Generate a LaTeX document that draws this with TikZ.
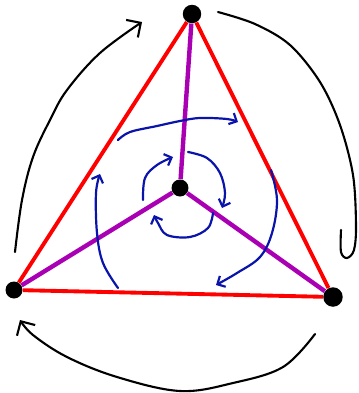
\documentclass[tikz,border=0pt]{standalone}
\usetikzlibrary{arrows.meta}

\definecolor{edgered}{RGB}{255,0,0}
\definecolor{spokepurple}{RGB}{170,0,180}
\definecolor{swirlblue}{RGB}{10,20,170}

\begin{document}
\begin{tikzpicture}[
  x=0.02cm, y=-0.02cm,
  vertex/.style  = {circle, fill=black, inner sep=0pt, minimum size=0.34cm},
  edge/.style    = {edgered, line width=2.2pt},
  spoke/.style   = {spokepurple, line width=2.5pt},
  orbit/.style   = {black, line width=1.2pt, line cap=round, line join=round},
  swirl/.style   = {swirlblue, line width=1.25pt, line cap=round, line join=round},
  orbittip/.style = {-{Straight Barb[length=6pt,width=12pt,line width=1.2pt]}},
  swirltip/.style = {-{Straight Barb[length=3.5pt,width=7pt,line width=1.25pt]}},
]

%% ── Frame (pixel grid of the sketch) ─────────────────────────────────────────
\useasboundingbox (0,0) rectangle (359,393);

%% ── Vertices ─────────────────────────────────────────────────────────────────
\node[vertex, minimum size=0.37cm] (T) at (192,14)  {};
\node[vertex]                      (L) at (14,290)  {};
\node[vertex, minimum size=0.39cm] (R) at (333,297) {};
\node[vertex]                      (C) at (180,188) {};

%% ── Triangle (red) ───────────────────────────────────────────────────────────
\draw[edge] (T) -- (L);
\draw[edge] (L) -- (R);
\draw[edge] (R) -- (T);

%% ── Spokes to centre (purple) ────────────────────────────────────────────────
\draw[spoke] (C) -- (T);
\draw[spoke] (C) -- (L);
\draw[spoke] (C) -- (R);

%% ── Outer rotation (black) ───────────────────────────────────────────────────
% left side, up to the top vertex
\draw[orbit, orbittip] plot[smooth, tension=0.6] coordinates
  {(15,252) (22,200) (33,157) (50,120) (67,90) (100,53) (142,22)};
% right side, down to the right vertex (hooked end)
\draw[orbit] plot[smooth, tension=0.55] coordinates
  {(218,12) (255,24) (290,45) (320,82) (340,125) (353,175) (356,225)
   (354,250) (347,258) (341,252) (341,230)};
% bottom, back to the left vertex
\draw[orbit, orbittip] plot[smooth, tension=0.6] coordinates
  {(315,334) (283,367) (233,383) (180,391) (117,377) (67,357) (33,335) (20,320)};

%% ── Outer swirl (blue) ───────────────────────────────────────────────────────
\draw[swirl, swirltip] plot[smooth, tension=0.6] coordinates
  {(118,140) (130,132) (157,126) (180,121) (200,118) (227,119) (238,122)};
\draw[swirl, swirltip] plot[smooth, tension=0.6] coordinates
  {(271,170) (277,200) (272,233) (260,257) (237,273) (216,285)};
\draw[swirl, swirltip] plot[smooth, tension=0.6] coordinates
  {(118,288) (103,263) (97,233) (96,193) (100,174)};

%% ── Inner swirl (blue) ───────────────────────────────────────────────────────
\draw[swirl, swirltip] plot[smooth, tension=0.6] coordinates
  {(143,200) (145,178) (157,165) (173,157)};
\draw[swirl, swirltip] plot[smooth, tension=0.6] coordinates
  {(188,152) (207,158) (220,173) (225,193) (222,208)};
\draw[swirl, swirltip] plot[smooth, tension=0.6] coordinates
  {(213,213) (208,228) (190,237) (167,235) (158,223) (154,215)};

\end{tikzpicture}
\end{document}
